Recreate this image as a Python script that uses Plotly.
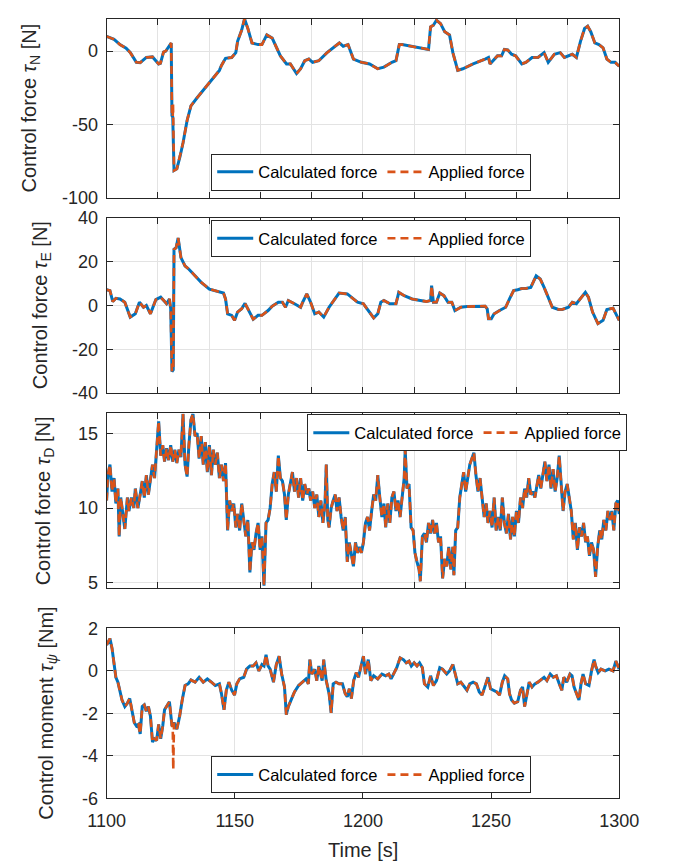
import plotly.graph_objects as go

# ---------------- Control force tau_N [N] ----------------
t_N = [1100.0, 1102.9, 1105.2, 1107.6, 1109.2, 1111.6, 1113.1, 1115.5, 1117.9, 1118.7,
       1120.3, 1121.0, 1122.2, 1123.1, 1124.5, 1125.2, 1125.5, 1125.8, 1126.3, 1127.4,
       1128.7, 1129.8, 1131.4, 1132.9, 1135.3, 1138.5, 1140.9, 1144.0, 1144.8, 1146.4,
       1148.8, 1150.4, 1151.1, 1152.7, 1153.8, 1155.1, 1156.7, 1159.1, 1160.6, 1162.5,
       1164.6, 1166.2, 1167.8, 1170.2, 1171.7, 1174.1, 1175.7, 1177.3, 1178.9, 1180.4,
       1182.8, 1186.0, 1188.4, 1190.8, 1192.3, 1194.2, 1196.3, 1199.4, 1202.6, 1205.8,
       1208.2, 1211.3, 1212.9, 1214.2, 1215.3, 1225.6, 1226.4, 1227.5, 1228.7, 1230.3,
       1231.9, 1233.8, 1235.1, 1237.0, 1239.0, 1243.0, 1247.7, 1249.0, 1249.6, 1250.9,
       1252.5, 1254.1, 1255.2, 1256.5, 1258.0, 1259.6, 1262.0, 1263.6, 1266.0, 1268.3,
       1270.7, 1272.3, 1274.7, 1277.0, 1278.6, 1281.7, 1283.3, 1284.9, 1286.5, 1287.7,
       1288.9, 1290.5, 1292.1, 1293.7, 1295.2, 1296.8, 1298.4, 1300.0]
calc_N = [10.0, 8.0, 4.4, 2.0, -1.0, -7.7, -8.0, -4.4, -4.0, -5.5,
          -8.8, -8.4, -0.7, 0.0, 3.3, 5.5, -44.0, -45.0, -81.5, -80.4,
          -71.6, -62.8, -47.4, -37.4, -31.9, -25.3, -19.8, -13.2, -9.9, -5.0,
          -4.4, -1.1, 6.6, 14.3, 22.0, 15.4, 5.5, 4.4, 4.4, 11.0,
          8.8, 2.2, -3.3, -8.8, -8.8, -15.4, -12.1, -6.6, -5.5, -7.7,
          -6.6, -1.1, 2.2, 5.5, 3.3, 4.4, -5.5, -7.7, -8.8, -12.1,
          -11.0, -7.7, -6.6, 4.4, 4.4, 1.1, 16.5, 17.6, 21.0, 18.7,
          13.2, 11.0, -1.1, -13.2, -12.1, -8.8, -5.5, -4.4, -8.8, -6.6,
          -3.3, -3.3, 1.1, 0.7, -2.2, -3.3, -8.8, -7.7, -4.4, -4.4,
          -1.1, -7.7, -2.2, -1.1, -4.4, -2.2, -4.4, 6.6, 15.4, 17.0,
          13.2, 5.5, 4.4, 2.2, -5.5, -7.7, -7.7, -10.4]
# instants where the applied force departs from the calculated one
spike_N_t = [1125.9]
spike_N_v = [-36.0]

# ---------------- Control force tau_E [N] ----------------
t_E = [1100.0, 1101.3, 1102.4, 1103.6, 1105.2, 1107.1, 1109.2, 1111.2, 1112.8, 1114.4,
       1115.5, 1117.1, 1119.2, 1121.1, 1122.3, 1123.4, 1124.5, 1125.0, 1125.5, 1126.0,
       1126.3, 1127.1, 1127.9, 1129.0, 1130.6, 1132.1, 1134.5, 1136.9, 1140.1, 1143.2,
       1145.6, 1146.4, 1147.2, 1148.8, 1149.9, 1151.1, 1152.7, 1154.0, 1155.1, 1157.2,
       1159.1, 1160.6, 1163.0, 1164.6, 1167.0, 1168.6, 1169.8, 1170.9, 1173.3, 1175.7,
       1176.5, 1178.1, 1179.6, 1181.2, 1182.8, 1184.7, 1186.8, 1189.2, 1190.7, 1193.9,
       1196.3, 1197.9, 1200.2, 1202.1, 1204.2, 1205.8, 1207.0, 1208.2, 1210.5, 1212.9,
       1214.0, 1216.1, 1219.2, 1222.4, 1224.8, 1226.4, 1226.8, 1227.5, 1228.7, 1230.0,
       1231.6, 1233.2, 1234.7, 1235.9, 1238.2, 1240.6, 1244.6, 1247.7, 1248.5, 1249.0,
       1250.1, 1251.2, 1253.3, 1255.7, 1257.2, 1258.8, 1260.4, 1262.0, 1263.6, 1265.5,
       1267.6, 1269.2, 1270.7, 1272.3, 1273.9, 1276.3, 1277.8, 1280.2, 1281.7, 1283.3,
       1284.9, 1286.8, 1288.0, 1289.6, 1291.7, 1293.7, 1295.2, 1297.6, 1300.0]
calc_E = [7.2, 6.8, 1.8, 3.3, 3.0, 1.5, -5.3, -3.8, 1.5, -0.8,
          0.0, -3.8, 2.7, 3.8, 2.3, 0.8, 3.0, -1.5, -30.2, -29.4,
          25.7, 26.4, 30.9, 21.9, 18.1, 16.6, 13.6, 10.6, 7.5, 6.3,
          5.7, 3.0, -3.8, -4.5, -6.8, -3.0, -1.5, 1.0, -1.5, -6.3,
          -4.5, -4.5, -2.3, -0.3, 1.5, 1.5, -0.8, 2.3, 0.8, -0.8,
          1.5, 5.3, 1.5, -3.8, -3.0, -5.3, -0.8, 3.0, 5.7, 5.3,
          3.0, 1.5, 0.8, -2.3, -5.7, -3.8, 1.5, 2.3, 0.8, 0.8,
          6.0, 4.5, 3.0, 2.3, 1.8, 2.3, 9.1, 1.5, 1.5, 5.7,
          4.5, 1.5, 1.5, -2.3, -0.8, -0.5, -0.5, -0.3, -1.5, -6.0,
          -6.0, -3.8, -2.3, -0.8, 3.0, 6.8, 7.2, 7.8, 7.8, 8.3,
          13.6, 12.1, 8.3, 3.8, -0.8, -1.8, -1.8, -0.8, 1.5, 0.8,
          3.0, 6.0, 3.8, -3.0, -8.3, -6.8, -1.8, -1.2, -6.8]

# ---------------- Control force tau_D [N] ----------------
t_D = [1100.0, 1100.5, 1101.3, 1102.1, 1102.9, 1103.6, 1104.4, 1104.9, 1105.5, 1106.5,
       1107.1, 1108.1, 1108.7, 1109.7, 1110.6, 1111.2, 1112.2, 1113.1, 1113.9, 1114.7,
       1115.5, 1116.3, 1117.1, 1117.9, 1118.7, 1119.5, 1120.3, 1121.1, 1121.9, 1122.6,
       1123.4, 1124.2, 1125.0, 1125.8, 1126.6, 1127.4, 1128.2, 1129.0, 1129.8, 1130.6,
       1131.4, 1132.1, 1132.9, 1133.7, 1134.5, 1135.3, 1136.1, 1136.9, 1137.7, 1138.5,
       1139.3, 1140.1, 1140.9, 1141.6, 1142.4, 1143.2, 1144.0, 1144.8, 1145.6, 1146.4,
       1147.2, 1148.0, 1148.8, 1149.6, 1150.4, 1151.1, 1151.9, 1152.7, 1153.5, 1154.3,
       1155.1, 1155.9, 1156.7, 1157.5, 1158.3, 1159.1, 1159.9, 1160.6, 1161.4, 1162.2,
       1163.0, 1163.8, 1164.6, 1165.4, 1166.2, 1167.0, 1167.8, 1168.6, 1169.4, 1170.1,
       1170.9, 1171.7, 1172.5, 1173.3, 1174.1, 1174.9, 1175.7, 1176.5, 1177.3, 1178.1,
       1178.9, 1179.6, 1180.4, 1181.2, 1182.0, 1182.8, 1183.6, 1184.4, 1185.2, 1185.7,
       1186.3, 1186.8, 1187.6, 1188.4, 1189.2, 1189.9, 1190.7, 1191.5, 1192.3, 1193.1,
       1193.9, 1194.7, 1195.5, 1196.3, 1197.1, 1197.9, 1198.7, 1199.4, 1200.2, 1201.0,
       1201.8, 1202.6, 1203.4, 1204.2, 1205.0, 1205.8, 1206.6, 1207.4, 1208.2, 1208.9,
       1209.7, 1210.5, 1211.3, 1212.1, 1212.9, 1213.7, 1214.5, 1215.3, 1216.1, 1216.5,
       1217.2, 1218.0, 1218.8, 1219.6, 1220.3, 1221.1, 1221.9, 1222.4, 1223.2, 1224.0,
       1224.8, 1225.6, 1226.4, 1227.2, 1227.9, 1228.7, 1229.5, 1230.3, 1231.1, 1231.9,
       1232.7, 1233.5, 1234.3, 1235.1, 1235.5, 1236.2, 1237.0, 1237.8, 1238.6, 1239.3,
       1240.1, 1240.9, 1241.7, 1242.5, 1243.3, 1244.1, 1244.9, 1245.7, 1246.5, 1247.3,
       1248.1, 1248.8, 1249.6, 1250.4, 1251.2, 1252.0, 1252.8, 1253.6, 1254.4, 1255.2,
       1256.0, 1256.8, 1257.6, 1258.4, 1259.1, 1259.9, 1260.7, 1261.5, 1262.3, 1263.1,
       1263.9, 1264.7, 1265.5, 1266.3, 1267.1, 1267.9, 1268.6, 1269.4, 1270.2, 1271.0,
       1271.8, 1272.6, 1273.4, 1274.2, 1275.0, 1275.8, 1276.6, 1277.4, 1278.1, 1278.9,
       1279.7, 1280.5, 1281.3, 1282.1, 1282.9, 1283.7, 1284.5, 1285.3, 1286.1, 1286.9,
       1287.6, 1288.4, 1289.2, 1290.0, 1290.8, 1291.6, 1292.4, 1293.2, 1294.0, 1294.8,
       1295.6, 1296.4, 1297.1, 1297.9, 1298.7, 1299.4, 1300.0]
calc_D = [10.5, 12.2, 12.9, 11.1, 12.0, 10.3, 11.3, 8.1, 10.7, 9.4,
          8.6, 10.7, 9.8, 10.7, 10.0, 11.3, 10.0, 10.9, 11.8, 10.7,
          12.2, 10.9, 11.8, 12.9, 12.0, 13.9, 15.8, 13.5, 14.2, 13.1,
          14.0, 13.2, 14.2, 13.1, 13.9, 13.0, 13.9, 13.4, 16.3, 12.9,
          12.1, 14.2, 15.9, 16.3, 14.8, 15.0, 13.3, 14.8, 12.9, 14.4,
          12.4, 14.2, 12.2, 13.9, 12.9, 13.7, 12.0, 12.9, 11.8, 13.0,
          8.5, 10.5, 9.8, 10.3, 8.7, 9.6, 8.5, 10.3, 9.0, 8.1,
          9.2, 5.7, 7.7, 7.2, 8.3, 9.0, 7.2, 8.1, 4.8, 9.0,
          9.2, 10.0, 11.6, 12.4, 11.1, 13.5, 12.0, 11.8, 10.9, 9.2,
          10.9, 11.8, 12.4, 11.1, 12.0, 10.7, 12.0, 10.5, 11.6, 10.9,
          11.3, 10.5, 11.1, 10.0, 10.9, 9.4, 10.5, 9.0, 10.3, 12.9,
          9.2, 8.7, 10.0, 10.5, 10.9, 9.8, 10.7, 9.4, 8.5, 9.4,
          6.4, 7.7, 7.0, 6.1, 7.7, 7.0, 7.4, 7.0, 7.7, 9.0,
          9.4, 8.5, 9.8, 10.9, 10.5, 12.2, 10.7, 9.4, 10.3, 8.7,
          10.3, 9.0, 10.7, 11.1, 9.8, 10.5, 9.4, 10.9, 12.0, 13.9,
          11.3, 11.6, 8.7, 8.5, 7.0, 6.4, 5.9, 5.1, 8.1, 8.3,
          7.7, 9.0, 8.3, 9.2, 8.3, 9.0, 7.7, 8.1, 5.3, 6.6,
          6.1, 7.4, 5.9, 7.4, 5.5, 8.5, 8.7, 10.7, 11.6, 12.4,
          11.1, 12.2, 12.9, 13.3, 13.7, 12.2, 11.1, 12.0, 10.7, 9.4,
          10.3, 9.0, 9.8, 8.7, 10.7, 8.5, 9.4, 8.5, 10.7, 9.0,
          8.3, 9.6, 7.9, 9.4, 8.1, 9.8, 9.0, 10.7, 10.0, 11.3,
          10.7, 12.0, 10.9, 11.1, 10.7, 11.6, 12.2, 11.3, 12.4, 13.1,
          11.8, 12.9, 11.3, 12.6, 11.1, 12.0, 13.5, 11.3, 9.8, 11.1,
          11.6, 10.7, 9.8, 7.9, 9.0, 7.2, 8.7, 8.1, 9.0, 7.7,
          8.1, 6.8, 7.7, 7.2, 5.4, 7.4, 8.5, 7.9, 9.2, 8.5,
          9.8, 9.2, 9.8, 8.5, 10.3, 10.5, 9.6]

# ---------------- Control moment tau_psi [Nm] ----------------
t_P = [1100.0, 1100.5, 1101.3, 1102.1, 1102.9, 1103.6, 1104.4, 1105.2, 1106.0, 1107.1,
       1108.1, 1109.0, 1110.0, 1110.8, 1111.6, 1112.4, 1113.1, 1113.9, 1114.7, 1115.5,
       1116.3, 1117.1, 1117.9, 1118.7, 1119.5, 1120.3, 1121.1, 1121.9, 1122.6, 1123.4,
       1124.5, 1125.5, 1126.3, 1127.4, 1128.5, 1129.5, 1130.6, 1131.8, 1132.9, 1134.5,
       1136.1, 1137.7, 1139.3, 1140.9, 1142.4, 1144.0, 1144.8, 1145.8, 1146.7, 1147.7,
       1148.8, 1149.9, 1150.8, 1151.9, 1153.5, 1154.6, 1155.9, 1157.2, 1158.3, 1159.4,
       1160.6, 1161.4, 1162.2, 1163.0, 1163.8, 1165.1, 1166.2, 1167.3, 1168.3, 1169.4,
       1170.1, 1170.9, 1172.1, 1173.3, 1174.9, 1176.5, 1177.8, 1178.7, 1179.3, 1180.1,
       1181.2, 1182.0, 1182.8, 1184.1, 1184.7, 1185.7, 1186.8, 1187.6, 1188.4, 1189.5,
       1190.7, 1192.0, 1193.1, 1193.9, 1194.7, 1195.5, 1196.4, 1197.4, 1198.3, 1199.4,
       1200.2, 1201.0, 1202.1, 1203.1, 1204.2, 1205.8, 1207.4, 1208.9, 1210.1, 1211.0,
       1212.1, 1213.2, 1214.5, 1215.8, 1216.9, 1218.0, 1218.9, 1220.0, 1221.1, 1222.1,
       1223.2, 1224.0, 1225.3, 1226.4, 1227.5, 1228.7, 1230.0, 1231.1, 1232.7, 1233.8,
       1235.1, 1235.9, 1237.0, 1238.2, 1239.5, 1240.6, 1241.7, 1243.0, 1244.3, 1245.4,
       1246.5, 1247.7, 1248.8, 1249.8, 1250.9, 1252.2, 1253.3, 1254.4, 1255.3, 1256.5,
       1257.2, 1258.0, 1259.1, 1260.4, 1261.5, 1262.3, 1263.1, 1263.9, 1264.9, 1266.0,
       1267.1, 1268.3, 1269.6, 1270.7, 1271.8, 1273.1, 1274.3, 1275.5, 1276.6, 1277.6,
       1278.4, 1279.5, 1280.8, 1281.6, 1282.4, 1283.5, 1284.3, 1285.1, 1285.9, 1286.9,
       1288.2, 1289.2, 1290.2, 1290.8, 1291.8, 1292.9, 1294.5, 1296.0, 1297.6, 1298.7,
       1300.0]
calc_P = [1.22, 1.37, 1.52, 1.07, 0.30, -0.30, -0.53, -0.91, -1.37, -1.68,
          -1.52, -1.30, -1.98, -2.44, -2.59, -2.52, -2.97, -1.68, -1.60, -1.90,
          -1.68, -2.13, -3.35, -3.20, -3.28, -2.52, -3.20, -2.59, -1.83, -1.68,
          -1.45, -2.59, -2.44, -2.74, -2.13, -1.37, -0.69, -0.61, -0.43, -0.53,
          -0.30, -0.53, -0.38, -0.53, -0.69, -0.61, -1.07, -1.83, -0.91, -0.53,
          -0.91, -1.14, -0.61, -0.38, -0.30, 0.08, 0.23, 0.23, 0.38, 0.00,
          0.30, 0.23, 0.76, 0.23, 0.08, -0.53, 0.30, 0.69, -0.15, -0.76,
          -2.06, -1.68, -1.37, -0.99, -0.69, -0.53, -0.38, -0.61, 0.53, -0.15,
          0.08, -0.46, 0.23, -0.46, 0.53, -0.46, -1.07, -1.98, -0.61, -0.53,
          -0.61, -0.61, -1.07, -1.22, -0.84, -1.30, -0.46, -0.08, -0.30, 0.30,
          0.69, -0.15, 0.53, -0.46, -0.23, -0.38, -0.15, -0.23, -0.15, -0.38,
          -0.08, 0.15, 0.61, 0.53, 0.38, 0.46, 0.23, 0.38, 0.23, 0.38,
          0.15, -0.61, -0.76, -0.23, -0.69, -0.46, 0.15, 0.08, -0.15, 0.00,
          0.30, -0.08, -0.61, -0.53, -0.76, -0.91, -0.61, -0.53, -0.61, -0.99,
          -1.14, -0.69, -0.30, -0.84, -0.91, -0.99, -1.14, -0.53, -0.23, -0.38,
          -1.07, -1.37, -1.52, -1.45, -0.91, -0.76, -1.68, -1.07, -0.53, -0.76,
          -0.61, -0.53, -0.38, -0.30, -0.46, -0.15, -0.30, -0.23, -0.61, -0.91,
          -0.30, -0.53, -0.15, -0.23, -0.76, -1.07, -1.37, -0.61, -0.15, -0.61,
          -0.69, 0.00, 0.53, 0.23, -0.08, 0.08, 0.00, 0.08, 0.00, 0.46,
          0.08]
spike_P_t = [1125.8, 1126.0, 1126.1]
spike_P_v = [-2.6, -4.65, -2.5]

x_ticks_fine = [1100, 1120, 1140, 1160, 1180, 1200, 1220, 1240, 1260, 1280, 1300]
x_ticks_main = [1100, 1150, 1200, 1250, 1300]

legend_labels = ["Calculated force", "Applied force"]
y_titles = ["Control force <i>τ</i><sub>N</sub> [N]",
            "Control force <i>τ</i><sub>E</sub> [N]",
            "Control force <i>τ</i><sub>D</sub> [N]",
            "Control moment <i>τ</i><sub><i>ψ</i></sub> [Nm]"]
y_tickvals = [[-100, -50, 0], [-40, -20, 0, 20, 40], [5, 10, 15], [-6, -4, -2, 0, 2]]
y_ranges = [[-100, 22], [-40, 40], [4.63, 16.32], [-6, 2]]


def merge(t, v, st, sv):
    pts = sorted(list(zip(t, v)) + list(zip(st, sv)))
    return [p[0] for p in pts], [p[1] for p in pts]


def tick_text(vals):
    # plain hyphen for negative labels
    return [str(v) for v in vals]


BLUE = "#0072BD"
ORANGE = "#D95319"
INK = "#262626"
GRID = "#e3e3e3"
FONT = "Liberation Sans, Arial, sans-serif"

W, H = 675, 866
x0, x1 = 93, 637
panels_px = [(9, 192), (213, 392), (413, 592), (633, 807)]
legend_pos = [(204, 147), (204, 215), (306, 414), (204, 764)]
title_x = [12, 24, 27, 30]

series = [
    (t_N, calc_N, merge(t_N, calc_N, spike_N_t, spike_N_v)),
    (t_E, calc_E, (t_E, calc_E)),
    (t_D, calc_D, (t_D, calc_D)),
    (t_P, calc_P, merge(t_P, calc_P, spike_P_t, spike_P_v)),
]

fig = go.Figure()
layout = dict(
    width=W, height=H, margin=dict(l=0, r=0, t=0, b=0),
    paper_bgcolor="white", plot_bgcolor="white",
    font=dict(family=FONT, size=17, color=INK),
    annotations=[],
)

for i, (tc, vc, (ta, va)) in enumerate(series):
    n = i + 1
    sfx = "" if n == 1 else str(n)
    leg = "legend" if n == 1 else f"legend{n}"
    fig.add_trace(go.Scatter(x=tc, y=vc, mode="lines", name=legend_labels[0],
                             line=dict(color=BLUE, width=3),
                             xaxis=f"x{sfx}", yaxis=f"y{sfx}", legend=leg))
    fig.add_trace(go.Scatter(x=ta, y=va, mode="lines", name=legend_labels[1],
                             line=dict(color=ORANGE, width=2.6, dash="8px,5px"),
                             xaxis=f"x{sfx}", yaxis=f"y{sfx}", legend=leg))

    top, bot = panels_px[i]
    last = (n == 4)
    xt = x_ticks_main if last else x_ticks_fine
    layout[f"xaxis{sfx}"] = dict(
        domain=[x0 / W, x1 / W], range=[1100, 1300], anchor=f"y{sfx}",
        tickmode="array", tickvals=xt, ticktext=tick_text(xt),
        showticklabels=last, ticks="inside", ticklen=6, tickcolor=INK,
        ticklabelstandoff=6,
        showline=True, linecolor=INK, linewidth=1, mirror="ticks",
        showgrid=True, gridcolor=GRID, gridwidth=1, zeroline=False,
        tickfont=dict(size=18, color=INK),
    )
    layout[f"yaxis{sfx}"] = dict(
        domain=[1 - bot / H, 1 - top / H], range=y_ranges[i], anchor=f"x{sfx}",
        tickmode="array", tickvals=y_tickvals[i], ticktext=tick_text(y_tickvals[i]),
        ticks="inside", ticklen=6, tickcolor=INK, ticklabelstandoff=4,
        showline=True, linecolor=INK, linewidth=1, mirror="ticks",
        showgrid=True, gridcolor=GRID, gridwidth=1, zeroline=False,
        tickfont=dict(size=18, color=INK),
    )
    lx, ly = legend_pos[i]
    layout[leg] = dict(
        x=lx / W, y=1 - ly / H, xanchor="left", yanchor="top",
        orientation="h", bgcolor="white", bordercolor=INK, borderwidth=1,
        font=dict(family=FONT, size=16.5, color="black"), itemwidth=36,
    )
    layout["annotations"].append(dict(
        text=y_titles[i], xref="paper", yref="paper",
        x=title_x[i] / W, y=1 - (top + bot) / 2 / H,
        xanchor="center", yanchor="middle", textangle=-90, showarrow=False,
        font=dict(family=FONT, size=20, color=INK),
    ))

layout["annotations"].append(dict(
    text="Time [s]", xref="paper", yref="paper",
    x=(x0 + x1) / 2 / W, y=1 - 860 / H, xanchor="center", yanchor="middle",
    showarrow=False, font=dict(family=FONT, size=20, color=INK),
))

fig.update_layout(**layout)
fig.write_html("out.html")
